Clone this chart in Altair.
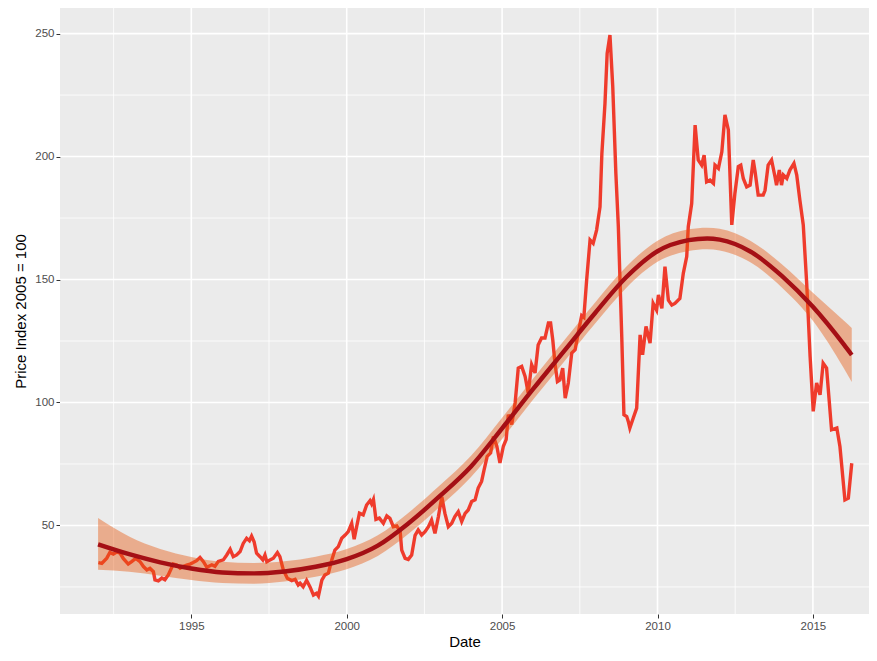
import altair as alt
import pandas as pd

# ---- raw monthly price index ----
raw_year = [
    1992.01, 1992.12, 1992.28, 1992.38, 1992.49, 1992.60, 1992.71, 1992.81, 1992.97,
    1993.08, 1993.21, 1993.35, 1993.46, 1993.57, 1993.67, 1993.78, 1993.83, 1993.94,
    1994.05, 1994.15, 1994.26, 1994.42, 1994.53, 1994.64, 1994.74, 1994.85, 1994.96,
    1995.06, 1995.17, 1995.28, 1995.39, 1995.50, 1995.66, 1995.76, 1995.87,
    1996.03, 1996.14, 1996.25, 1996.35, 1996.46, 1996.57, 1996.67, 1996.78, 1996.87, 1996.94,
    1997.02, 1997.10, 1997.21, 1997.30, 1997.37, 1997.43, 1997.53, 1997.64, 1997.77, 1997.85, 1997.96,
    1998.09, 1998.23, 1998.34, 1998.44, 1998.50, 1998.60, 1998.71, 1998.82, 1998.93,
    1999.03, 1999.09, 1999.20, 1999.30, 1999.41, 1999.52, 1999.62, 1999.73, 1999.84, 1999.95,
    2000.05, 2000.16, 2000.24, 2000.32, 2000.41, 2000.53, 2000.64, 2000.75, 2000.80, 2000.86, 2000.94,
    2001.05, 2001.18, 2001.29, 2001.39, 2001.50, 2001.61, 2001.72, 2001.77, 2001.88, 2001.98,
    2002.09, 2002.20, 2002.30, 2002.41, 2002.52, 2002.63, 2002.73, 2002.84, 2002.95,
    2003.06, 2003.16, 2003.27, 2003.38, 2003.48, 2003.59, 2003.70, 2003.81, 2003.91,
    2004.02, 2004.13, 2004.23, 2004.34, 2004.42, 2004.52, 2004.63, 2004.72, 2004.83, 2004.93,
    2005.04, 2005.13, 2005.20, 2005.31, 2005.42, 2005.52, 2005.63, 2005.74, 2005.84, 2005.95,
    2006.06, 2006.16, 2006.27, 2006.38, 2006.49, 2006.56, 2006.63, 2006.70, 2006.78, 2006.86, 2006.95,
    2007.03, 2007.13, 2007.24, 2007.35, 2007.45, 2007.56, 2007.63, 2007.72, 2007.83, 2007.93,
    2008.04, 2008.15, 2008.21, 2008.31, 2008.38, 2008.47, 2008.56, 2008.66, 2008.74, 2008.85, 2008.92,
    2009.01, 2009.06, 2009.11, 2009.22, 2009.33, 2009.44, 2009.52, 2009.63, 2009.76, 2009.86, 2009.97,
    2010.03, 2010.14, 2010.24, 2010.35, 2010.46, 2010.56, 2010.72, 2010.83, 2010.94, 2010.99,
    2011.10, 2011.21, 2011.31, 2011.42, 2011.50, 2011.58, 2011.69, 2011.80, 2011.85, 2011.96,
    2012.07, 2012.17, 2012.28, 2012.39, 2012.49, 2012.60, 2012.68, 2012.76, 2012.87, 2012.98,
    2013.08, 2013.14, 2013.24, 2013.40, 2013.46, 2013.56, 2013.67, 2013.78, 2013.83, 2013.92, 2013.99,
    2014.05, 2014.16, 2014.26, 2014.39, 2014.48, 2014.58, 2014.69, 2014.80, 2014.91,
    2015.01, 2015.12, 2015.23, 2015.33, 2015.44, 2015.60, 2015.77, 2015.87,
    2016.03, 2016.14, 2016.25,
]
raw_value = [
    34.9, 34.6, 36.7, 39.0, 38.4, 39.2, 38.7, 36.6, 34.3,
    35.3, 36.6, 35.3, 33.3, 31.9, 32.6, 31.2, 27.9, 27.5,
    28.6, 27.9, 29.9, 34.3, 33.9, 32.6, 33.3, 33.9, 34.3,
    34.9, 35.7, 37.0, 35.3, 33.0, 34.0, 33.4, 35.4,
    36.0, 38.0, 40.3, 37.3, 38.0, 39.4, 42.7, 44.8, 43.8, 45.7,
    43.4, 38.7, 37.3, 36.0, 38.0, 35.3, 36.0, 36.7, 39.0, 37.3, 31.9,
    28.5, 27.6, 28.1, 25.8, 26.5, 25.1, 27.7, 25.0, 21.7,
    22.4, 21.3, 27.8, 29.9, 30.6, 36.0, 40.0, 41.4, 44.8, 46.1,
    47.5, 50.9, 44.4, 49.5, 55.0, 54.3, 58.3, 60.1, 58.8, 60.6, 52.5,
    53.0, 50.9, 53.9, 52.9, 49.5, 49.8, 47.5, 40.0, 36.6, 36.2,
    38.0, 46.0, 48.2, 46.1, 47.5, 49.5, 52.2, 46.8, 53.6,
    61.7, 54.9, 49.5, 50.9, 53.6, 55.6, 51.6, 54.9, 56.3,
    59.7, 60.4, 65.2, 67.9, 72.6, 78.1, 79.5, 86.2, 82.2, 75.4,
    82.2, 84.9, 95.1, 91.1, 99.9, 114.0, 114.7, 110.6, 103.9, 115.4,
    112.0, 123.4, 126.2, 126.2, 132.3, 132.3, 125.5, 116.0, 108.5, 109.2, 114.0,
    101.8, 107.9, 120.1, 121.5, 128.3, 135.3, 134.6, 149.8, 166.1, 164.7,
    170.1, 179.5, 201.2, 221.6, 241.9, 249.4, 228.4, 193.2, 171.5, 126.7, 95.0,
    94.3, 92.3, 89.6, 93.7, 97.7, 127.5, 119.4, 130.9, 124.1, 140.3, 137.6,
    143.7, 138.3, 155.2, 141.6, 139.6, 140.3, 142.3, 152.5, 159.3, 171.5,
    180.9, 212.8, 198.6, 196.5, 200.6, 189.7, 190.4, 189.1, 196.5, 195.2,
    201.9, 216.9, 210.8, 172.2, 185.0, 195.9, 196.5, 191.1, 187.7, 188.4,
    198.6, 193.8, 184.3, 184.3, 186.3, 196.5, 198.6, 191.8, 188.4, 194.5, 188.4,
    192.5, 191.1, 194.5, 197.2, 192.5, 182.3, 172.2, 148.5, 118.7,
    96.4, 107.9, 103.1, 116.0, 114.0, 88.9, 89.6, 82.1,
    60.4, 61.1, 75.3,
]

# ---- smoothed trend and its confidence band ----
smooth_year = [1992.0, 1993.0, 1994.0, 1995.0, 1996.0, 1997.0, 1998.0, 1999.0, 2000.0,
               2001.0, 2002.0, 2003.0, 2004.0, 2005.0, 2006.0, 2007.0, 2008.0, 2009.0,
               2010.0, 2011.0, 2011.6, 2012.0, 2013.0, 2014.0, 2015.0, 2016.0, 2016.25]
smooth_fit = [42.3, 38.3, 35.0, 32.5, 30.9, 30.5, 31.3, 33.2, 36.3,
              41.8, 51.0, 62.0, 74.0, 89.5, 105.5, 121.0, 136.5, 151.0,
              161.5, 166.0, 166.7, 166.2, 161.3, 151.5, 138.9, 123.5, 119.3]
smooth_lower = [32.0, 31.2, 29.6, 27.8, 26.6, 26.3, 27.2, 29.1, 32.2,
                37.6, 46.7, 57.7, 69.7, 85.2, 101.2, 116.7, 132.2, 146.7,
                157.2, 161.6, 162.3, 161.8, 156.9, 146.8, 133.2, 113.8, 108.3]
smooth_upper = [53.0, 45.5, 40.4, 37.2, 35.2, 34.7, 35.4, 37.3, 40.4,
                46.0, 55.3, 66.3, 78.3, 93.8, 109.8, 125.3, 140.8, 155.3,
                165.8, 170.4, 171.1, 170.6, 165.7, 156.2, 144.6, 133.2, 130.3]

# ---- axis breaks ----
x_major = [1995, 2000, 2005, 2010, 2015]
x_minor = [1992.5, 1997.5, 2002.5, 2007.5, 2012.5]
y_major = [50, 100, 150, 200, 250]
y_minor = [25, 75, 125, 175, 225]

raw_df = pd.DataFrame({"year": raw_year, "value": raw_value})
smooth_df = pd.DataFrame({"year": smooth_year, "fit": smooth_fit,
                          "lower": smooth_lower, "upper": smooth_upper})

XD = [1990.775, 2016.805]
YD = [14.0, 260.4]
FONT = "Liberation Sans"

x_scale = alt.Scale(domain=XD, nice=False, zero=False)
y_scale = alt.Scale(domain=YD, nice=False, zero=False)

x_axis = alt.Axis(values=x_major, format="d", grid=False, domain=False,
                  title="Date", tickSize=4, tickColor="#333333", tickWidth=1,
                  labelColor="#4D4D4D", labelFontSize=11.5, labelFont=FONT,
                  labelPadding=2, titleFont=FONT, titleFontSize=15,
                  titleFontWeight="normal", titleColor="black", titlePadding=3)
y_axis = alt.Axis(values=y_major, format="d", grid=False, domain=False,
                  title="Price Index 2005 = 100", tickSize=4, tickColor="#333333",
                  tickWidth=1, labelColor="#4D4D4D", labelFontSize=11.5,
                  labelFont=FONT, labelPadding=2, titleFont=FONT, titleFontSize=15,
                  titleFontWeight="normal", titleColor="black", titlePadding=6)

def vgrid(vals, w):
    return alt.Chart(pd.DataFrame({"year": vals})).mark_rule(
        color="white", strokeWidth=w).encode(
        x=alt.X("year:Q", scale=x_scale, axis=x_axis))

def hgrid(vals, w):
    return alt.Chart(pd.DataFrame({"value": vals})).mark_rule(
        color="white", strokeWidth=w).encode(
        y=alt.Y("value:Q", scale=y_scale, axis=y_axis))

raw_line = alt.Chart(raw_df).mark_line(color="#EF3B2C", strokeWidth=3.4, clip=True).encode(
    x=alt.X("year:Q", scale=x_scale, axis=x_axis),
    y=alt.Y("value:Q", scale=y_scale, axis=y_axis),
)

band = alt.Chart(smooth_df).mark_area(color="#E6550D", opacity=0.42,
                                      interpolate="monotone", clip=True).encode(
    x=alt.X("year:Q", scale=x_scale, axis=x_axis),
    y=alt.Y("lower:Q", scale=y_scale, axis=y_axis),
    y2="upper:Q",
)

fit_line = alt.Chart(smooth_df).mark_line(color="#A50F15", strokeWidth=4.4,
                                          interpolate="monotone", clip=True).encode(
    x=alt.X("year:Q", scale=x_scale, axis=x_axis),
    y=alt.Y("fit:Q", scale=y_scale, axis=y_axis),
)

chart = alt.layer(
    vgrid(x_minor, 0.8), hgrid(y_minor, 0.8),
    vgrid(x_major, 1.6), hgrid(y_major, 1.6),
    raw_line, band, fit_line,
).properties(
    width=809, height=606,
    autosize=alt.AutoSizeParams(type="none"),
    padding={"left": 52, "top": 0, "right": 0, "bottom": 39},
    background="white",
).configure_view(fill="#EBEBEB", strokeWidth=0)

chart.save("out.html", embed_options={"renderer": "svg", "actions": False})
